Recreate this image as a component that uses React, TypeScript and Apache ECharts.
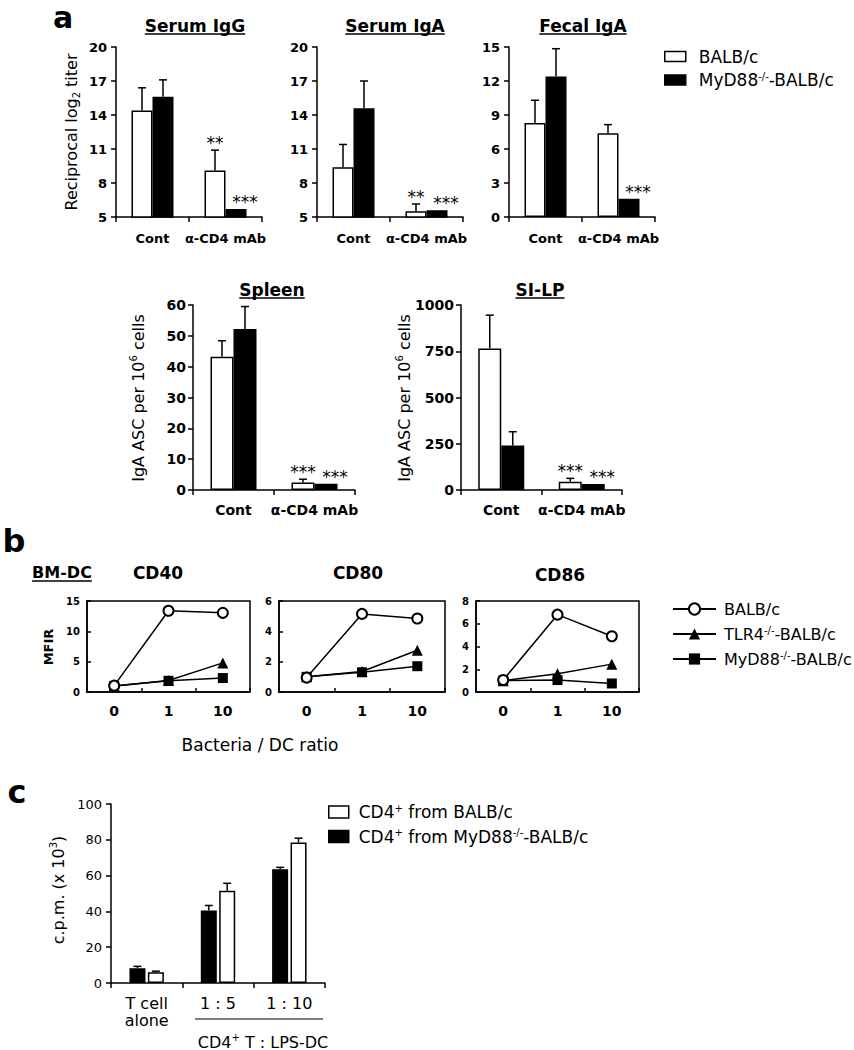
import React, { useEffect, useRef } from 'react';
import * as echarts from 'echarts';

const FONT = 'DejaVu Sans';

// ---------- Panel a data ----------
const groupsA = ['Cont', 'α-CD4 mAb'];
const iggWT = [14.4, 9.1];
const iggWTErr = [2.0, 1.8];
const iggWTSig = ['', '**'];
const iggKO = [15.6, 5.7];
const iggKOErr = [1.5, 0];
const iggKOSig = ['', '***'];

const igaWT = [9.4, 5.5];
const igaWTErr = [2.0, 0.65];
const igaWTSig = ['', '**'];
const igaKO = [14.6, 5.6];
const igaKOErr = [2.4, 0];
const igaKOSig = ['', '***'];

const fecWT = [8.3, 7.4];
const fecWTErr = [2.0, 0.75];
const fecWTSig = ['', ''];
const fecKO = [12.4, 1.6];
const fecKOErr = [2.45, 0];
const fecKOSig = ['', '***'];

const splWT = [43.2, 2.4];
const splWTErr = [5.2, 1.1];
const splWTSig = ['', '***'];
const splKO = [52.2, 2.0];
const splKOErr = [7.3, 0];
const splKOSig = ['', '***'];

const silpWT = [765, 45];
const silpWTErr = [180, 18];
const silpWTSig = ['', '***'];
const silpKO = [240, 32];
const silpKOErr = [75, 0];
const silpKOSig = ['', '***'];

// ---------- Panel b data ----------
const ratios = ['0', '1', '10'];
const cd40WT = [1.05, 13.4, 13.05];
const cd40TLR4 = [1.0, 1.9, 4.8];
const cd40MyD = [1.0, 1.85, 2.3];
const cd80WT = [0.95, 5.15, 4.85];
const cd80TLR4 = [1.0, 1.35, 2.75];
const cd80MyD = [1.0, 1.3, 1.7];
const cd86WT = [1.05, 6.8, 4.9];
const cd86TLR4 = [1.0, 1.6, 2.45];
const cd86MyD = [1.0, 1.05, 0.75];

// ---------- Panel c data ----------
const groupsC = ['T cell\nalone', '1 : 5', '1 : 10'];
const cKO = [8.3, 40.5, 63.5];
const cKOErr = [1.0, 2.8, 1.1];
const cWT = [6.0, 51.5, 78.5];
const cWTErr = [0.6, 4.2, 2.4];

const AX = { color: '#000', width: 1.5 };

function catAxis(gi: number, data: string[], fontSize: number, weight: string, margin: number, inside = false) {
  return {
    type: 'category', gridIndex: gi, data, boundaryGap: true,
    axisLine: { show: true, onZero: false, lineStyle: AX },
    axisTick: { show: true, inside, length: inside ? 4 : 5, lineStyle: AX },
    axisLabel: { color: '#000', fontFamily: FONT, fontWeight: weight, fontSize, margin, interval: 0, lineHeight: 17 },
    splitLine: { show: false },
  };
}
function valAxis(gi: number, min: number, max: number, interval: number, fontSize: number, weight: string, margin: number, inside = false) {
  return {
    type: 'value', gridIndex: gi, min, max, interval,
    axisLine: { show: true, onZero: false, lineStyle: AX },
    axisTick: { show: true, inside, length: inside ? 4 : 5, lineStyle: AX },
    axisLabel: { color: '#000', fontFamily: FONT, fontWeight: weight, fontSize, margin, formatter: (v: number) => String(v) },
    splitLine: { show: false },
  };
}

function errSeries(gi: number, vals: number[], errs: number[], sigs: string[], dx: number, sdx: number) {
  return {
    type: 'custom', xAxisIndex: gi, yAxisIndex: gi, silent: true, z: 5,
    data: vals.map((v, i) => [i, v, errs[i]]),
    renderItem: (params: any, api: any) => {
      const i = api.value(0);
      const v = api.value(1);
      const e = api.value(2);
      const p = api.coord([i, v]);
      const x = p[0] + dx;
      const top = api.coord([i, v + e])[1];
      const children: any[] = [];
      const ls = { stroke: '#000', lineWidth: 1.5 };
      if (e > 0) {
        children.push({ type: 'line', shape: { x1: x, y1: p[1], x2: x, y2: top }, style: ls });
        children.push({ type: 'line', shape: { x1: x - 4, y1: top, x2: x + 4, y2: top }, style: ls });
      }
      const s = sigs[params.dataIndex];
      if (s) {
        children.push({
          type: 'text', x: x + sdx, y: top - 7,
          style: { text: s, fontFamily: FONT, fontSize: 17, fill: '#000', align: 'center', verticalAlign: 'middle' },
        });
      }
      return { type: 'group', children };
    },
  };
}

function barPair(gi: number, wt: number[], wtE: number[], wtS: string[], ko: number[], koE: number[], koS: string[], bw: number) {
  return [
    { type: 'bar', name: 'aWT', xAxisIndex: gi, yAxisIndex: gi, data: wt, barWidth: bw, barGap: '0%',
      itemStyle: { color: '#fff', borderColor: '#000', borderWidth: 1.5 } },
    { type: 'bar', name: 'aKO', xAxisIndex: gi, yAxisIndex: gi, data: ko, barWidth: bw, barGap: '0%',
      itemStyle: { color: '#000', borderColor: '#000', borderWidth: 1.5 } },
    errSeries(gi, wt, wtE, wtS, -bw / 2, 0),
    errSeries(gi, ko, koE, koS, bw / 2, 9),
  ];
}

function lineSet(gi: number, wt: number[], tlr: number[], myd: number[]) {
  const base = { type: 'line', xAxisIndex: gi, yAxisIndex: gi, lineStyle: { color: '#000', width: 1.5 } };
  return [
    { ...base, name: 'bMyD', data: myd, symbol: 'rect', symbolSize: 10, itemStyle: { color: '#000' } },
    { ...base, name: 'bTLR', data: tlr, symbol: 'triangle', symbolSize: 11, itemStyle: { color: '#000' } },
    { ...base, name: 'bWT', data: wt, symbol: 'emptyCircle', symbolSize: 10, itemStyle: { color: '#000', borderWidth: 1.5 } },
  ];
}

let measureCtx: CanvasRenderingContext2D | null = null;
function tw(text: string, font: string) {
  if (!measureCtx) measureCtx = document.createElement('canvas').getContext('2d');
  measureCtx!.font = font;
  return measureCtx!.measureText(text).width;
}

function txt(text: string, x: number, y: number, size: number, weight = 'normal', rotation = 0, rich?: any) {
  return {
    type: 'text', x, y, rotation,
    style: { text, fontFamily: FONT, fontSize: size, fontWeight: weight, fill: '#000', align: 'center', verticalAlign: 'middle', rich },
  };
}
function uTitle(text: string, cx: number, cy: number, size: number, uy: number) {
  const w = tw(text, `bold ${size}px "${FONT}"`);
  return [
    txt(text, cx, cy, size, 'bold'),
    { type: 'line', shape: { x1: cx - w / 2, y1: uy, x2: cx + w / 2, y2: uy }, style: { stroke: '#000', lineWidth: 1.5 } },
  ];
}

function supRich(size: number) {
  return {
    n: { fontFamily: FONT, fontSize: size, fill: '#000', color: '#000', lineHeight: 20 },
    u: { fontFamily: FONT, fontSize: Math.round(size * 0.65), color: '#000', verticalAlign: 'top', lineHeight: 12 },
    d: { fontFamily: FONT, fontSize: Math.round(size * 0.65), color: '#000', verticalAlign: 'bottom', lineHeight: 12 },
  };
}

const legendNames: Record<string, string> = {
  aWT: '{p|BALB/c}',
  aKO: '{p|MyD88}{s|-/-}{t|-BALB/c}',
  bWT: '{p|BALB/c}',
  bTLR: '{p|TLR4}{s|-/-}{t|-BALB/c}',
  bMyD: '{p|MyD88}{s|-/-}{t|-BALB/c}',
  cWT: '{p|CD4}{s|+}{t| from BALB/c}',
  cKO: '{p|CD4}{s|+}{t| from MyD88}{s|-/-}{t|-BALB/c}',
};
function legendRich(pad: number, size: number) {
  return {
    p: { fontFamily: FONT, fontSize: size, color: '#000', padding: [0, 0, 0, pad], lineHeight: 18 },
    t: { fontFamily: FONT, fontSize: size, color: '#000', lineHeight: 18 },
    s: { fontFamily: FONT, fontSize: 10, color: '#000', verticalAlign: 'top', lineHeight: 10 },
  };
}

export default function App() {
  const ref = useRef<HTMLDivElement>(null);
  useEffect(() => {
    document.body.style.margin = '0';
    const chart = echarts.init(ref.current!, null, { renderer: 'svg' });

    const grids = [
      { left: 116, top: 47, width: 146, height: 170 },
      { left: 317, top: 47, width: 146, height: 170 },
      { left: 509, top: 47, width: 146, height: 170 },
      { left: 193, top: 305, width: 162, height: 185 },
      { left: 461, top: 305, width: 161, height: 185 },
      { left: 87, top: 601, width: 163, height: 91, show: true, borderColor: '#000', borderWidth: 1.5 },
      { left: 279, top: 601, width: 166, height: 91, show: true, borderColor: '#000', borderWidth: 1.5 },
      { left: 476, top: 601, width: 163, height: 91, show: true, borderColor: '#000', borderWidth: 1.5 },
      { left: 111, top: 804, width: 214, height: 179 },
    ].map((g) => ({ ...g, containLabel: false, outerBoundsMode: 'none' }));

    const xAxis = [
      catAxis(0, groupsA, 13, 'bold', 13),
      catAxis(1, groupsA, 13, 'bold', 13),
      catAxis(2, groupsA, 13, 'bold', 13),
      catAxis(3, groupsA, 14, 'bold', 11),
      catAxis(4, groupsA, 14, 'bold', 11),
      catAxis(5, ratios, 14, 'bold', 10, true),
      catAxis(6, ratios, 14, 'bold', 10, true),
      catAxis(7, ratios, 14, 'bold', 10, true),
      catAxis(8, groupsC, 16, 'normal', 12),
    ];
    const yAxis = [
      valAxis(0, 5, 20, 3, 13, 'bold', 9),
      valAxis(1, 5, 20, 3, 13, 'bold', 9),
      valAxis(2, 0, 15, 3, 13, 'bold', 9),
      valAxis(3, 0, 60, 10, 14, 'bold', 7),
      valAxis(4, 0, 1000, 250, 14, 'bold', 7),
      valAxis(5, 0, 15, 5, 10, 'bold', 7, true),
      valAxis(6, 0, 6, 2, 10, 'bold', 7, true),
      valAxis(7, 0, 8, 2, 10, 'bold', 7, true),
      valAxis(8, 0, 100, 20, 13, 'normal', 9),
    ];

    const series: any[] = [
      ...barPair(0, iggWT, iggWTErr, iggWTSig, iggKO, iggKOErr, iggKOSig, 21),
      ...barPair(1, igaWT, igaWTErr, igaWTSig, igaKO, igaKOErr, igaKOSig, 21),
      ...barPair(2, fecWT, fecWTErr, fecWTSig, fecKO, fecKOErr, fecKOSig, 21),
      ...barPair(3, splWT, splWTErr, splWTSig, splKO, splKOErr, splKOSig, 23),
      ...barPair(4, silpWT, silpWTErr, silpWTSig, silpKO, silpKOErr, silpKOSig, 23),
      ...lineSet(5, cd40WT, cd40TLR4, cd40MyD),
      ...lineSet(6, cd80WT, cd80TLR4, cd80MyD),
      ...lineSet(7, cd86WT, cd86TLR4, cd86MyD),
      { type: 'bar', name: 'cKO', xAxisIndex: 8, yAxisIndex: 8, data: cKO, barWidth: 16, barGap: '15%',
        itemStyle: { color: '#000', borderColor: '#000', borderWidth: 1.5 } },
      { type: 'bar', name: 'cWT', xAxisIndex: 8, yAxisIndex: 8, data: cWT, barWidth: 16, barGap: '15%',
        itemStyle: { color: '#fff', borderColor: '#000', borderWidth: 1.5 } },
      errSeries(8, cKO, cKOErr, ['', '', ''], -9.2, 0),
      errSeries(8, cWT, cWTErr, ['', '', ''], 9.2, 0),
    ];

    const fmt = (name: string) => legendNames[name] || name;
    const legend = [
      {
        left: 659, top: 43, orient: 'vertical', itemWidth: 21, itemHeight: 10, itemGap: 6, selectedMode: false,
        formatter: fmt, textStyle: { rich: legendRich(8, 17) },
        data: [
          { name: 'aWT', icon: 'rect', itemStyle: { color: '#fff', borderColor: '#000', borderWidth: 1.5 } },
          { name: 'aKO', icon: 'rect', itemStyle: { color: '#000', borderColor: '#000', borderWidth: 1.5 } },
        ],
      },
      {
        left: 667, top: 596, orient: 'vertical', itemWidth: 43, itemHeight: 14, itemGap: 8, selectedMode: false,
        formatter: fmt, textStyle: { rich: legendRich(3, 16) },
        data: ['bWT', 'bTLR', 'bMyD'],
      },
      {
        left: 323, top: 798, orient: 'vertical', itemWidth: 20, itemHeight: 12, itemGap: 7, selectedMode: false,
        formatter: fmt, textStyle: { rich: legendRich(5, 17) },
        data: [
          { name: 'cWT', icon: 'rect', itemStyle: { color: '#fff', borderColor: '#000', borderWidth: 1.5 } },
          { name: 'cKO', icon: 'rect', itemStyle: { color: '#000', borderColor: '#000', borderWidth: 1.5 } },
        ],
      },
    ];

    const graphic: any[] = [
      txt('a', 63, 17, 30, 'bold'),
      ...uTitle('Serum IgG', 195, 26, 17, 34),
      ...uTitle('Serum IgA', 395, 26, 17, 34),
      ...uTitle('Fecal IgA', 583, 26, 17, 34),
      ...uTitle('Spleen', 272, 290, 17, 298),
      ...uTitle('SI-LP', 540, 290, 17, 298),
      txt('{n|Reciprocal log}{d|2}{n| titer}', 71, 132, 16, 'normal', Math.PI / 2, supRich(16)),
      txt('{n|IgA ASC per 10}{u|6}{n| cells}', 138, 398, 16, 'normal', Math.PI / 2, supRich(16)),
      txt('{n|IgA ASC per 10}{u|6}{n| cells}', 404, 398, 16, 'normal', Math.PI / 2, supRich(16)),
      txt('b', 14, 541, 32, 'bold'),
      ...uTitle('BM-DC', 62, 572, 16, 581),
      txt('CD40', 158, 573, 17, 'bold'),
      txt('CD80', 358, 573, 17, 'bold'),
      txt('CD86', 560, 575, 17, 'bold'),
      txt('MFIR', 48, 647, 13, 'bold', Math.PI / 2),
      txt('Bacteria / DC ratio', 260, 745, 17),
      txt('c', 17, 792, 32, 'bold'),
      txt('{n|c.p.m. (x 10}{u|3}{n|)}', 58, 890, 16, 'normal', Math.PI / 2, supRich(16)),
      { type: 'line', shape: { x1: 195, y1: 1019, x2: 323, y2: 1019 }, style: { stroke: '#000', lineWidth: 1.2 } },
      txt('{n|CD4}{u|+}{n| T : LPS-DC}', 263, 1042, 16, 'normal', 0, supRich(16)),
    ];

    chart.setOption({
      animation: false,
      backgroundColor: '#fff',
      textStyle: { fontFamily: FONT },
      grid: grids,
      xAxis,
      yAxis,
      series,
      legend,
      graphic,
    });
    return () => chart.dispose();
  }, []);
  return <div ref={ref} style={{ width: 854, height: 1050 }} />;
}
